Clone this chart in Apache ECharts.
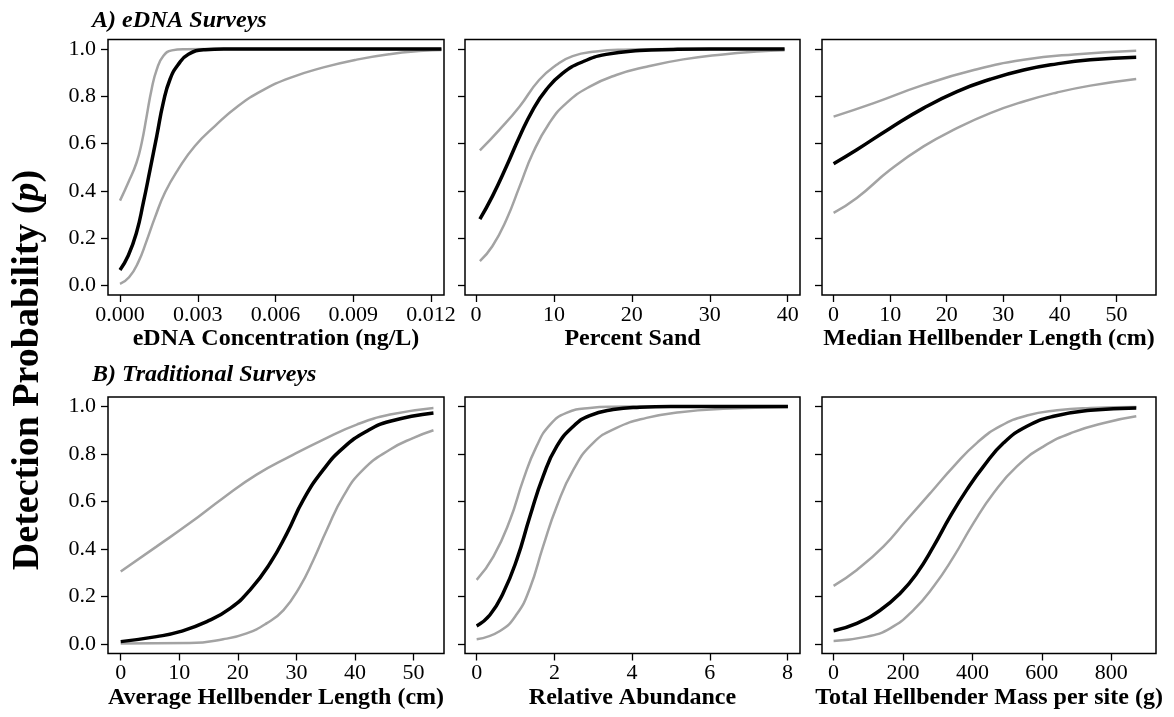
<!DOCTYPE html>
<html>
<head>
<meta charset="utf-8">
<script src="https://cdn.jsdelivr.net/npm/echarts@6/dist/echarts.min.js"></script>
<style>
  html, body { margin: 0; padding: 0; background: #fff; }
  #container { width: 1174px; height: 717px; }
</style>
</head>
<body>
<div id="container"></div>
<script>
// ---- A) eDNA surveys ----
var concMean  = [[0,0.066],[0.00032,0.127],[0.00064,0.225],[0.0009,0.35],[0.00116,0.49],[0.00142,0.633],[0.00167,0.773],[0.00193,0.872],[0.00225,0.935],[0.00264,0.978],[0.00328,0.997],[0.004,1.0],[0.006,1.0],[0.009,1.0],[0.0124,1.0]];
var concUpper = [[0,0.359],[0.00032,0.436],[0.00064,0.52],[0.00084,0.605],[0.00103,0.717],[0.00122,0.83],[0.00142,0.914],[0.00167,0.97],[0.002,0.994],[0.0025,0.999],[0.0035,1.0],[0.0124,1.0]];
var concLower = [[0,0.007],[0.00035,0.035],[0.00071,0.1],[0.00103,0.19],[0.00135,0.288],[0.00174,0.394],[0.00225,0.492],[0.00289,0.59],[0.00367,0.675],[0.00457,0.76],[0.0055,0.825],[0.00656,0.878],[0.00785,0.922],[0.00913,0.955],[0.0104,0.978],[0.0117,0.992],[0.0124,0.996]];

var sandMean  = [[0.5,0.281],[2.1,0.377],[3.9,0.503],[5.6,0.63],[7.3,0.743],[9.0,0.827],[11.1,0.897],[13.7,0.946],[16.7,0.977],[21,0.993],[25.3,0.998],[30,1.0],[39.6,1.0]];
var sandUpper = [[0.5,0.571],[3.0,0.658],[5.6,0.757],[8.1,0.869],[10.3,0.932],[12.4,0.97],[15.4,0.989],[18.9,0.997],[25,1.0],[39.6,1.0]];
var sandLower = [[0.5,0.103],[2.1,0.166],[3.9,0.278],[5.6,0.419],[7.3,0.56],[9.4,0.686],[11.6,0.771],[14.6,0.841],[18,0.89],[21.9,0.925],[26.6,0.956],[31.7,0.977],[36,0.989],[39.6,0.995]];

var medMean  = [[0,0.515],[4.1,0.574],[10,0.665],[15.9,0.75],[21.8,0.82],[27.7,0.872],[33.6,0.911],[39.5,0.937],[45.4,0.954],[53.5,0.965]];
var medUpper = [[0,0.714],[7.1,0.771],[15.9,0.848],[24.8,0.911],[33.6,0.954],[42.5,0.977],[53.5,0.992]];
var medLower = [[0,0.307],[4.1,0.37],[10,0.489],[15.9,0.588],[21.8,0.665],[27.7,0.729],[33.6,0.778],[39.5,0.816],[45.4,0.845],[53.5,0.873]];

// ---- B) traditional surveys ----
var avgMean  = [[0,0.01],[6.1,0.031],[10.1,0.052],[14.7,0.094],[18.7,0.15],[22.1,0.228],[25.5,0.34],[28.4,0.467],[31.2,0.608],[34.6,0.734],[38,0.826],[42,0.896],[46,0.938],[53.4,0.973]];
var avgUpper = [[0,0.305],[6.1,0.41],[11.8,0.509],[17.5,0.615],[23.2,0.713],[28.9,0.79],[34.6,0.861],[40.3,0.924],[46,0.966],[53.4,0.994]];
var avgLower = [[0,0.002],[11.8,0.004],[17.5,0.02],[21.5,0.045],[24.9,0.087],[27.8,0.143],[30.6,0.242],[32.9,0.354],[35.2,0.481],[38,0.622],[41.4,0.734],[46,0.819],[50,0.868],[53.4,0.9]];

var abunMean  = [[0,0.076],[0.34,0.122],[0.68,0.214],[1.03,0.354],[1.37,0.537],[1.71,0.706],[2.06,0.832],[2.49,0.917],[2.91,0.962],[3.51,0.987],[4.2,0.997],[5,1.0],[8.01,1.0]];
var abunUpper = [[0,0.27],[0.43,0.368],[0.86,0.523],[1.2,0.692],[1.54,0.832],[1.89,0.924],[2.31,0.973],[2.91,0.994],[3.5,0.999],[4.5,1.0],[8.01,1.0]];
var abunLower = [[0,0.02],[0.6,0.055],[1.03,0.125],[1.37,0.235],[1.71,0.411],[2.06,0.579],[2.49,0.734],[3.0,0.847],[3.6,0.91],[4.37,0.952],[5.23,0.976],[6.34,0.99],[8.01,0.998]];

var massMean  = [[0,0.056],[67,0.087],[135,0.143],[192,0.214],[240,0.298],[288,0.411],[336,0.537],[384,0.65],[432,0.748],[490,0.847],[557,0.917],[634,0.959],[740,0.984],[872,0.994]];
var massUpper = [[0,0.245],[67,0.312],[144,0.411],[211,0.523],[279,0.636],[346,0.748],[413,0.847],[480,0.917],[557,0.962],[644,0.984],[740,0.994],[872,0.998]];
var massLower = [[0,0.013],[96,0.031],[163,0.066],[230,0.143],[288,0.242],[346,0.368],[403,0.509],[461,0.636],[528,0.748],[605,0.832],[691,0.892],[788,0.934],[872,0.959]];

// tick labels
var concTicks = [0, 0.003, 0.006, 0.009, 0.012];
var sandTicks = [0, 10, 20, 30, 40];
var lengthTicks = [0, 10, 20, 30, 40, 50];
var abunTicks = [0, 2, 4, 6, 8];
var massTicks = [0, 200, 400, 600, 800];
var probTicks = [0, 0.2, 0.4, 0.6, 0.8, 1.0];

var FONT = "'Liberation Serif', 'Times New Roman', serif";
var GRAY = '#a3a3a3';

var panels = [
  { title: 'eDNA Concentration (ng/L)', min: -0.000463, max: 0.0125, ticks: concTicks, dec: 3, lines: [concLower, concUpper, concMean] },
  { title: 'Percent Sand', min: -1.41, max: 41.58, ticks: sandTicks, dec: 0, lines: [sandLower, sandUpper, sandMean] },
  { title: 'Median Hellbender Length (cm)', min: -2.05, max: 57.0, ticks: lengthTicks, dec: 0, lines: [medLower, medUpper, medMean] },
  { title: 'Average Hellbender Length (cm)', min: -2.17, max: 55.2, ticks: lengthTicks, dec: 0, lines: [avgLower, avgUpper, avgMean] },
  { title: 'Relative Abundance', min: -0.3, max: 8.32, ticks: abunTicks, dec: 0, lines: [abunLower, abunUpper, abunMean] },
  { title: 'Total Hellbender Mass per site (g)', min: -33.4, max: 928.8, ticks: massTicks, dec: 0, lines: [massLower, massUpper, massMean] }
];

var cols = [{ left: 108, width: 336 }, { left: 465, width: 335 }, { left: 822, width: 334 }];
var rows = [{ top: 39.5, height: 255.5 }, { top: 397, height: 256.5 }];

var grids = [], xAxes = [], yAxes = [], series = [];

panels.forEach(function (p, i) {
  var c = cols[i % 3], r = rows[Math.floor(i / 3)];
  grids.push({
    left: c.left, width: c.width, top: r.top, height: r.height,
    show: true, borderColor: '#000', borderWidth: 1.5, backgroundColor: 'transparent'
  });
  xAxes.push({
    type: 'value', gridIndex: i, min: p.min, max: p.max,
    name: p.title, nameLocation: 'middle', nameGap: 32,
    nameTextStyle: { fontFamily: FONT, fontSize: 24, fontWeight: 'bold', color: '#000' },
    axisLine: { show: false, onZero: false },
    splitLine: { show: false },
    axisTick: { show: true, inside: false, length: 7, customValues: p.ticks, lineStyle: { color: '#000', width: 1.3 } },
    axisLabel: {
      customValues: p.ticks, margin: 9, fontFamily: FONT, fontSize: 22, color: '#000',
      formatter: function (v) { return v.toFixed(p.dec); }
    }
  });
  yAxes.push({
    type: 'value', gridIndex: i, min: -0.04, max: 1.04,
    axisLine: { show: false, onZero: false },
    splitLine: { show: false },
    axisTick: { show: true, inside: false, length: 7, customValues: probTicks, lineStyle: { color: '#000', width: 1.3 } },
    axisLabel: {
      show: i % 3 === 0, customValues: probTicks, margin: 12, fontFamily: FONT, fontSize: 22, color: '#000',
      formatter: function (v) { return v.toFixed(1); }
    }
  });
  p.lines.forEach(function (d, k) {
    var isMean = k === 2;
    series.push({
      type: 'line', xAxisIndex: i, yAxisIndex: i, data: d,
      showSymbol: false, smooth: 0.5, silent: true,
      z: isMean ? 3 : 2,
      lineStyle: { color: isMean ? '#000' : GRAY, width: isMean ? 3.5 : 2.5 }
    });
  });
});

var myChart = echarts.init(document.getElementById('container'), null, { renderer: 'canvas' });

var option = {
  backgroundColor: '#fff',
  animation: false,
  title: [
    { text: 'A) eDNA Surveys', left: 92, top: 9, padding: 0,
      textStyle: { fontFamily: FONT, fontSize: 24, fontWeight: 'bold', fontStyle: 'italic', color: '#000' } },
    { text: 'B) Traditional Surveys', left: 92, top: 363, padding: 0,
      textStyle: { fontFamily: FONT, fontSize: 24, fontWeight: 'bold', fontStyle: 'italic', color: '#000' } }
  ],
  graphic: [{
    type: 'text', x: 28, y: 370, rotation: Math.PI / 2,
    style: {
      text: '{a|Detection Probability (}{b|p}{a|)}',
      align: 'center', verticalAlign: 'middle',
      rich: {
        a: { fontFamily: FONT, fontSize: 38, fontWeight: 'bold', fill: '#000' },
        b: { fontFamily: FONT, fontSize: 38, fontWeight: 'bold', fontStyle: 'italic', fill: '#000' }
      }
    }
  }],
  grid: grids,
  xAxis: xAxes,
  yAxis: yAxes,
  series: series
};

myChart.setOption(option);
window.addEventListener('resize', myChart.resize);
</script>
</body>
</html>
